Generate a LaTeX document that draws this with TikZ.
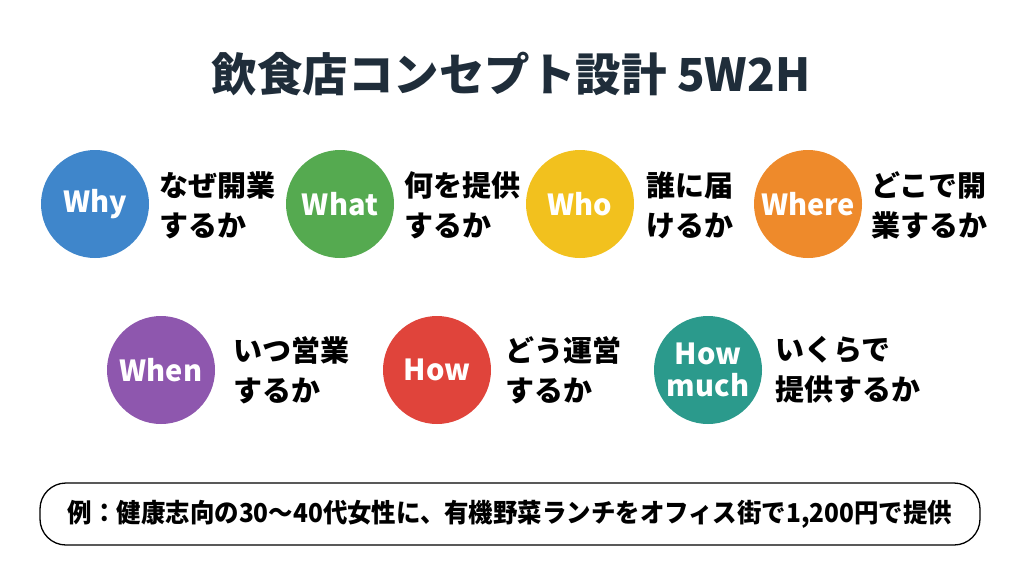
\documentclass[tikz,border=0pt]{standalone}
\usepackage{fontspec}
\usepackage{graphicx}
\setmainfont{Noto Sans CJK JP}
\definecolor{titlec}{HTML}{1F2D3A}
\definecolor{cwhy}{HTML}{3F86CB}
\definecolor{cwhat}{HTML}{55AA50}
\definecolor{cwho}{HTML}{F2C11E}
\definecolor{cwhere}{HTML}{EE8A2B}
\definecolor{cwhen}{HTML}{8E57AE}
\definecolor{chow}{HTML}{E0443B}
\definecolor{cmuch}{HTML}{2B9A8C}
\begin{document}
\begin{tikzpicture}[x=1pt,y=-1pt,
  dot/.style={circle,minimum size=108pt,inner sep=0pt,text=white,
    font=\fontsize{29}{31}\selectfont\bfseries,align=center},
  lbl/.style={anchor=west,align=left,inner sep=0pt,text=black,
    font=\fontsize{29}{40}\selectfont\bfseries}]
\useasboundingbox[fill=white] (0,0) rectangle (1024,576);
\node[text=titlec,font=\fontsize{45.5}{50}\selectfont\bfseries] (title) at (511,74) {飲食店コンセプト設計 5W2H};
% row 1
\node[dot,fill=cwhy] (why) at (95,204) {Why};
\node[lbl] (whyl) at (159,205) {なぜ開業\\するか};
\node[dot,fill=cwhat] (what) at (340,204) {What};
\node[lbl] (whatl) at (404,205) {何を提供\\するか};
\node[dot,fill=cwho] (who) at (580,204) {Who};
\node[lbl] (whol) at (646,205) {誰に届\\けるか};
\node[dot,fill=cwhere] (where) at (808,204) {Where};
\node[lbl] (wherel) at (871,205) {どこで開\\業するか};
% row 2
\node[dot,fill=cwhen] (when) at (161,370) {When};
\node[lbl] (whenl) at (233,370) {いつ営業\\するか};
\node[dot,fill=chow] (how) at (437,370) {How};
\node[lbl] (howl) at (505,370) {どう運営\\するか};
\node[dot,fill=cmuch,font=\fontsize{29}{32}\selectfont\bfseries] (much) at (708,370) {How\\much};
\node[lbl] (muchl) at (775,370) {いくらで\\提供するか};
% example box
\node[draw=black,line width=1.3pt,rounded corners=26pt,minimum width=940pt,minimum height=62pt,
  font=\fontsize{26}{28}\selectfont\bfseries] (ex) at (510,514)
  {\scalebox{0.94}[1]{例：健康志向の30〜40代女性に、有機野菜ランチをオフィス街で1,200円で提供}};
\end{tikzpicture}
\end{document}
